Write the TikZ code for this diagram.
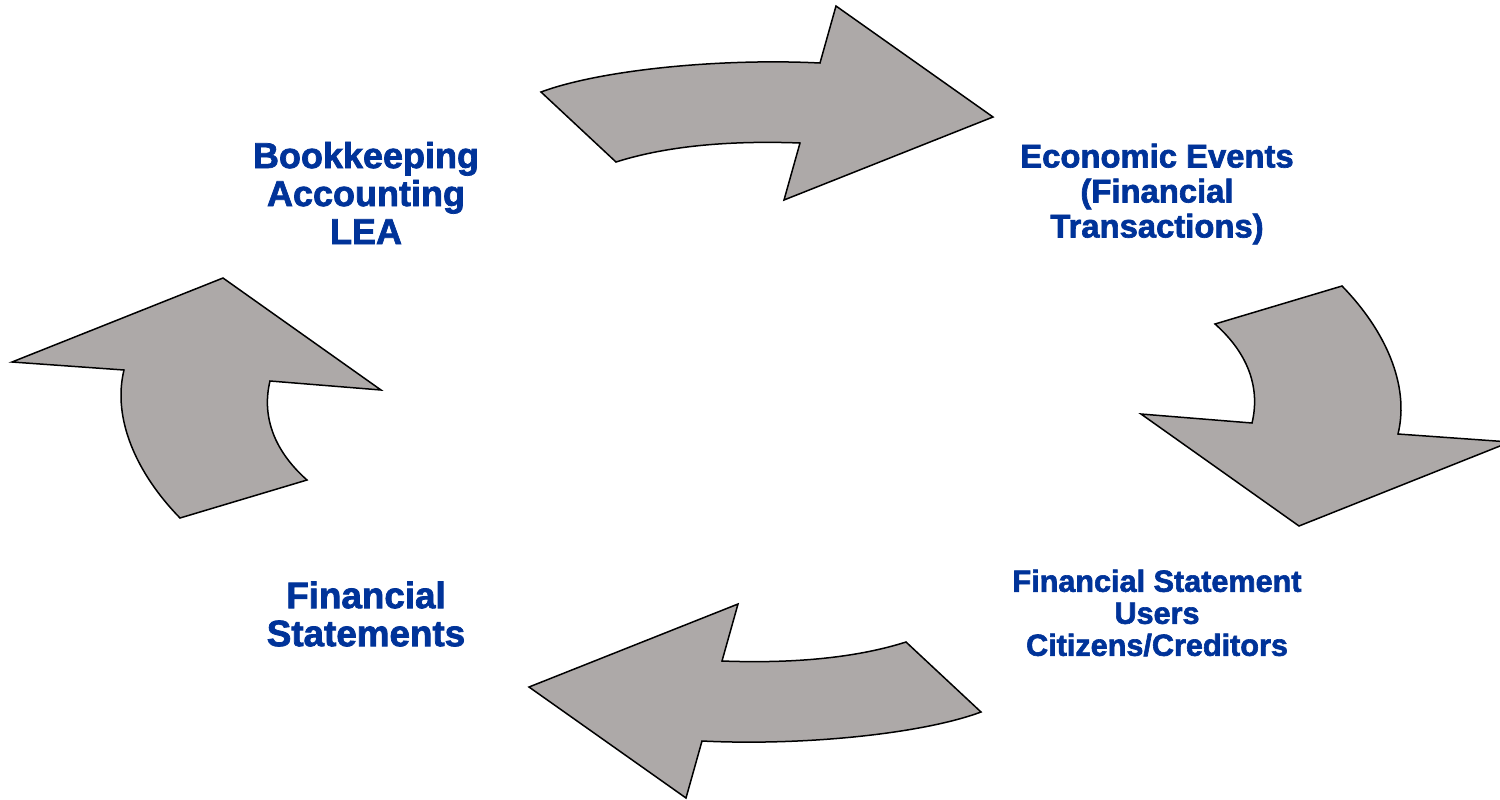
\documentclass[tikz,border=0pt]{standalone}
\usepackage{fontspec}
\newfontfamily\lblfont{Liberation Sans Bold}[FakeBold=2]
\definecolor{arrowgray}{HTML}{ADA9A8}
\definecolor{lblblue}{HTML}{003399}
\begin{document}
\begin{tikzpicture}[x=0.5pt,y=-0.5pt,
  arrowshape/.style={draw=black,fill=arrowgray,line width=0.75pt,line join=miter},
  lbl/.style={text=lblblue,align=center,inner sep=0pt}]
\useasboundingbox[fill=white] (0,0) rectangle (1500,799);
\clip (0,0) rectangle (1500,799);
% two arrows, the other two are point-symmetric copies
\newcommand{\topArrow}{%
  \draw[arrowshape] (541,92) .. controls (600,70) and (720,58) .. (820,63)
    -- (836,6) -- (993,117) -- (784,200) -- (800,143)
    .. controls (720,140) and (660,148) .. (616,162) -- cycle;}
\newcommand{\rightArrow}{%
  \draw[arrowshape] (1215,324) -- (1342,286)
    .. controls (1385,330) and (1410,385) .. (1398,434)
    -- (1510,442) -- (1299,526) -- (1141,414) -- (1252,423)
    .. controls (1260,390) and (1250,355) .. (1215,324) -- cycle;}
\topArrow
\rightArrow
\begin{scope}[rotate around={180:(761,402)}]
\topArrow
\rightArrow
\end{scope}
\node[lbl,font=\lblfont\fontsize{18}{19}\selectfont] (book) at (366,193)
  {Bookkeeping\\Accounting\\LEA};
\node[lbl,font=\lblfont\fontsize{16.4}{17.5}\selectfont] (econ) at (1157,194)
  {Economic Events\\(Financial\\Transactions)};
\node[lbl,font=\lblfont\fontsize{15.3}{16}\selectfont] (users) at (1157,613)
  {Financial Statement\\Users\\Citizens/Creditors};
\node[lbl,font=\lblfont\fontsize{18.4}{19}\selectfont] (fs) at (366,614)
  {Financial\\Statements};
\end{tikzpicture}
\end{document}
